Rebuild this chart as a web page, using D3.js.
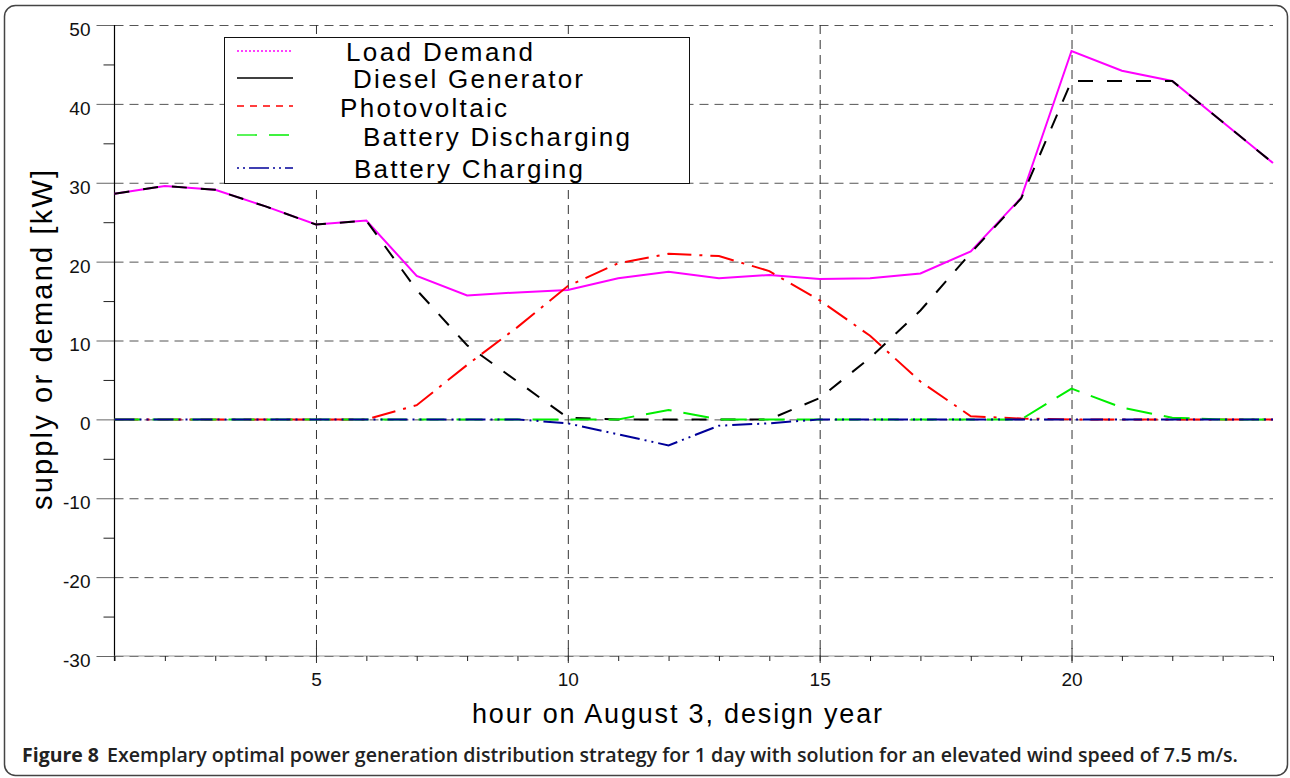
<!DOCTYPE html>
<html>
<head>
<meta charset="utf-8">
<script src="https://cdn.jsdelivr.net/npm/d3@7"></script>
<style>
  body { margin: 0; background: #fff; }
</style>
</head>
<body>
<div class="chart"></div>
<script>
// hours of the day
var hours = [1, 2, 3, 4, 5, 6, 7, 8, 9, 10, 11, 12, 13, 14, 15, 16, 17, 18, 19, 20, 21, 22, 23, 24];

// kW
var loadDemand = [28.6, 29.6, 29.1, 27.0, 24.7, 25.2, 18.2, 15.7, 16.1, 16.4, 17.9, 18.7,
    17.9, 18.3, 17.8, 17.9, 18.5, 21.3, 28.1, 46.7, 44.2, 42.9, 37.7, 32.5];
var dieselGenerator = [28.6, 29.6, 29.1, 27.0, 24.7, 25.2, 16.4, 9.4, 4.8, 0.2, 0, 0,
    0, 0, 2.7, 7.8, 13.8, 21.1, 28.0, 42.9, 42.9, 42.9, 37.7, 32.5];
var photovoltaic = [0, 0, 0, 0, 0, 0, 1.8, 6.9, 11.7, 16.9, 19.8, 21.0,
    20.7, 18.8, 15.1, 10.6, 4.8, 0.4, 0.1, 0, 0, 0, 0, 0];
var batteryDischarging = [0, 0, 0, 0, 0, 0, 0, 0, 0, 0, 0, 1.2,
    0, 0, 0, 0, 0, 0, 0, 3.9, 1.5, 0.2, 0, 0];
var batteryCharging = [0, 0, 0, 0, 0, 0, 0, 0, 0, -0.5, -1.9, -3.3,
    -0.8, -0.5, 0, 0, 0, 0, 0, 0, 0, 0, 0, 0];

var seriesNames = ["Load Demand", "Diesel Generator", "Photovoltaic", "Battery Discharging", "Battery Charging"];
var yTicks = [-30, -20, -10, 0, 10, 20, 30, 40, 50];
var yMinorTicks = [-25, -15, -5, 5, 15, 25, 35, 45];
var xTicks = [5, 10, 15, 20];

(function () {
    var svg_width = 1290, svg_height = 778;
    var pLeft = 114.5, pRight = 1273, pTop = 25, pBottom = 656;
    var tickFont = "Liberation Sans, Arial, sans-serif";

    var series = [
        {name: seriesNames[0], values: loadDemand, color: "#ff00ff", dash: null, legendDash: "2,2"},
        {name: seriesNames[1], values: dieselGenerator, color: "#000000", dash: "15,14", legendDash: null},
        {name: seriesNames[2], values: photovoltaic, color: "#ff0000", dash: "24,8,3,8", legendDash: "7,6"},
        {name: seriesNames[3], values: batteryDischarging, color: "#00ee00", dash: "26,12", legendDash: "20,12"},
        {name: seriesNames[4], values: batteryCharging, color: "#000099", dash: "20,5,2,5,2,5", legendDash: "2,4,2,4,20,4"}
    ];

    var svg = d3.select(".chart")
        .append("svg")
        .attr("width", svg_width)
        .attr("height", svg_height);

    // outer frame
    svg.append("rect")
        .attr("x", 4.5).attr("y", 5.5)
        .attr("width", 1283).attr("height", 770)
        .attr("rx", 11)
        .attr("fill", "none")
        .attr("stroke", "#444")
        .attr("stroke-width", 1.5);

    var xScale = d3.scaleLinear().domain([1, 24]).range([pLeft, pRight]);
    var yScale = d3.scaleLinear().domain([-30, 50]).range([pBottom, pTop]);
    var plain = function (d) { return String(d); };   // hyphen minus, like the original

    // horizontal grid
    svg.append("g")
        .attr("transform", "translate(" + pLeft + ",0)")
        .call(d3.axisRight(yScale).tickValues(yTicks).tickSize(pRight - pLeft).tickFormat(""))
        .call(function (g) { g.select(".domain").remove(); })
        .selectAll("line")
        .attr("stroke", "#555")
        .attr("stroke-dasharray", "9,6");

    // vertical grid
    svg.append("g")
        .attr("transform", "translate(0," + pTop + ")")
        .call(d3.axisBottom(xScale).tickValues(xTicks).tickSize(pBottom - pTop).tickFormat(""))
        .call(function (g) { g.select(".domain").remove(); })
        .selectAll("line")
        .attr("stroke", "#333")
        .attr("stroke-dasharray", "9,6");

    // y axis
    var yAxis = svg.append("g")
        .attr("transform", "translate(" + pLeft + ",0)")
        .call(d3.axisLeft(yScale).tickValues(yTicks).tickSize(18).tickPadding(6).tickFormat(plain));
    yAxis.select(".domain").remove();
    yAxis.selectAll("line").attr("stroke", "#666");
    yAxis.selectAll("text")
        .attr("dy", "0.55em")
        .style("font-family", tickFont)
        .style("font-size", "19px")
        .style("fill", "#111");

    svg.append("g")
        .attr("transform", "translate(" + pLeft + ",0)")
        .call(d3.axisLeft(yScale).tickValues(yMinorTicks).tickSize(11).tickFormat(""))
        .call(function (g) { g.select(".domain").remove(); })
        .selectAll("line").attr("stroke", "#222");

    svg.append("line")
        .attr("x1", pLeft).attr("x2", pLeft)
        .attr("y1", pTop).attr("y2", pBottom + 5)
        .attr("stroke", "#000").attr("stroke-width", 1.2);

    // x axis
    svg.append("line")
        .attr("x1", pLeft).attr("x2", pRight)
        .attr("y1", pBottom).attr("y2", pBottom)
        .attr("stroke", "#999").attr("stroke-width", 1);

    svg.append("g")
        .attr("transform", "translate(0," + pBottom + ")")
        .call(d3.axisBottom(xScale).tickValues(hours).tickSize(5).tickFormat(""))
        .call(function (g) { g.select(".domain").remove(); })
        .selectAll("line").attr("stroke", "#222");

    var xAxis = svg.append("g")
        .attr("transform", "translate(0," + pBottom + ")")
        .call(d3.axisBottom(xScale).tickValues(xTicks).tickSize(7).tickPadding(10).tickFormat(plain));
    xAxis.select(".domain").remove();
    xAxis.selectAll("line").attr("y1", -8).attr("stroke", "#333");
    xAxis.selectAll("text")
        .style("font-family", tickFont)
        .style("font-size", "19px")
        .style("fill", "#111");

    // series lines
    var line = d3.line()
        .x(function (d, i) { return xScale(hours[i]); })
        .y(function (d) { return yScale(d); });

    series.forEach(function (s) {
        svg.append("path")
            .datum(s.values)
            .attr("d", line)
            .attr("fill", "none")
            .attr("stroke", s.color)
            .attr("stroke-width", 2)
            .attr("stroke-dasharray", s.dash);
    });

    // legend
    var legend = svg.append("g");
    legend.append("rect")
        .attr("x", 224.5).attr("y", 37.5)
        .attr("width", 465).attr("height", 146)
        .attr("fill", "#fff")
        .attr("stroke", "#111");

    var legendY = [51, 78, 106, 135, 168];
    var legendTextX = [346, 353, 340, 363, 354];
    var legendTextLen = [187, 230, 167, 267, 229];
    var legendBase = [60.5, 88, 116.5, 146, 178];

    series.forEach(function (s, i) {
        legend.append("line")
            .attr("x1", 237).attr("x2", 293)
            .attr("y1", legendY[i]).attr("y2", legendY[i])
            .attr("stroke", s.color)
            .attr("stroke-width", 1.3)
            .attr("stroke-dasharray", s.legendDash);
        legend.append("text")
            .attr("x", legendTextX[i])
            .attr("y", legendBase[i])
            .attr("textLength", legendTextLen[i])
            .attr("lengthAdjust", "spacing")
            .style("font-family", tickFont)
            .style("font-size", "26px")
            .text(s.name);
    });

    // axis titles
    svg.append("text")
        .attr("transform", "translate(52,340) rotate(-90)")
        .attr("text-anchor", "middle")
        .attr("textLength", 340)
        .attr("lengthAdjust", "spacing")
        .style("font-family", tickFont)
        .style("font-size", "29px")
        .text("supply or demand [kW]");

    svg.append("text")
        .attr("x", 472)
        .attr("y", 723)
        .attr("textLength", 410)
        .attr("lengthAdjust", "spacing")
        .style("font-family", tickFont)
        .style("font-size", "27px")
        .text("hour on August 3, design year");

    // caption
    svg.append("text")
        .attr("x", 22)
        .attr("y", 762)
        .attr("textLength", 77)
        .attr("lengthAdjust", "spacingAndGlyphs")
        .style("font-family", "Open Sans, sans-serif")
        .style("font-weight", "bold")
        .style("font-size", "19px")
        .style("fill", "#222")
        .text("Figure 8");

    svg.append("text")
        .attr("x", 107)
        .attr("y", 762)
        .attr("textLength", 1131)
        .attr("lengthAdjust", "spacingAndGlyphs")
        .style("font-family", "Open Sans, sans-serif")
        .style("font-weight", "600")
        .style("font-size", "19px")
        .style("fill", "#222")
        .text("Exemplary optimal power generation distribution strategy for 1 day with solution for an elevated wind speed of 7.5 m/s.");
})();
</script>
</body>
</html>
